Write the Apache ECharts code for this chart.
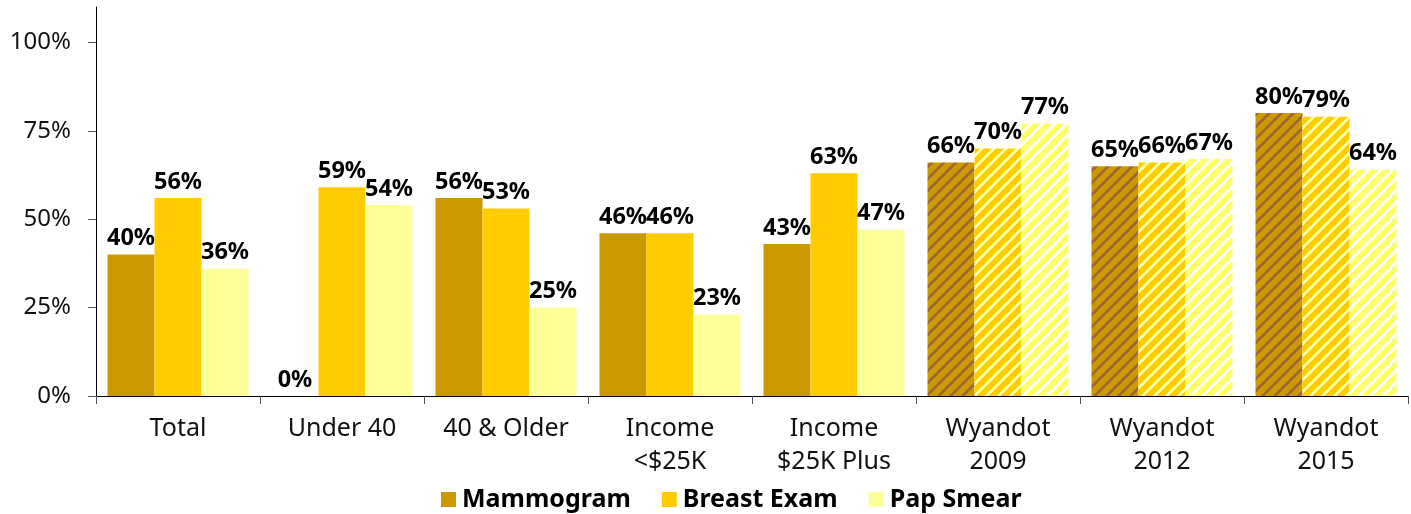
<!DOCTYPE html>
<html>
<head>
<meta charset="utf-8">
<script src="https://cdn.jsdelivr.net/npm/echarts@6/dist/echarts.min.js"></script>
<style>
html,body{margin:0;padding:0;background:#fff;}
#chart{width:1411px;height:514px;}
</style>
</head>
<body>
<div id="chart"></div>
<script>
const categories = ['Total', 'Under 40', '40 & Older', 'Income\n<$25K', 'Income\n$25K Plus', 'Wyandot\n2009', 'Wyandot\n2012', 'Wyandot\n2015'];
const hatchedCategories = ['Wyandot\n2009', 'Wyandot\n2012', 'Wyandot\n2015'];
const mammogram = [40, 0, 56, 46, 43, 66, 65, 80];
const breastExam = [56, 59, 53, 46, 63, 70, 66, 79];
const papSmear = [36, 54, 25, 23, 47, 77, 67, 64];
const yTicks = [0, 25, 50, 75, 100];

function stripeTile(base, stripe) {
  const n = 12, w = 4;
  const c = document.createElement('canvas');
  c.width = n; c.height = n;
  const ctx = c.getContext('2d');
  ctx.fillStyle = base; ctx.fillRect(0, 0, n, n);
  ctx.fillStyle = stripe;
  for (let y = 0; y < n; y++) for (let x = 0; x < n; x++) {
    if (((x + y) % n) < w) ctx.fillRect(x, y, 1, 1);
  }
  return { image: c, repeat: 'repeat' };
}

const FONT = "'Noto Sans', 'Open Sans', sans-serif";

function makeSeries(name, values, color, pattern) {
  return {
    name: name,
    type: 'bar',
    barGap: '0%',
    barCategoryGap: '14%',
    itemStyle: { color: color },
    label: {
      show: true, position: 'top', distance: 4,
      formatter: p => p.value + '%',
      color: '#000', fontWeight: 'bold', fontSize: 23.5, fontFamily: FONT
    },
    data: values.map((v, i) => hatchedCategories.includes(categories[i])
      ? { value: v, itemStyle: { color: pattern } }
      : v)
  };
}

const chart = echarts.init(document.getElementById('chart'), null, { renderer: 'canvas' });
chart.setOption({
  animation: false,
  textStyle: { fontFamily: FONT },
  grid: { left: 96, right: 3, top: 7, bottom: 118, containLabel: false },
  legend: {
    top: 482, left: 436,
    itemWidth: 15, itemHeight: 15, itemGap: 31,
    icon: 'rect',
    textStyle: { fontSize: 25, fontWeight: 'bold', color: '#000', fontFamily: FONT, padding: [0, 0, 0, 1] }
  },
  xAxis: {
    type: 'category',
    data: categories,
    axisLine: { lineStyle: { color: '#000', width: 1 } },
    axisTick: { show: true, length: 8, lineStyle: { color: '#555' } },
    axisLabel: { fontSize: 25, color: '#111', lineHeight: 33, margin: 16, interval: 0, fontFamily: FONT }
  },
  yAxis: {
    type: 'value',
    min: 0, max: 110, interval: 25,
    splitLine: { show: false },
    axisLine: { show: true, lineStyle: { color: '#000', width: 1 } },
    axisTick: { show: true, length: 8, customValues: yTicks, lineStyle: { color: '#555' } },
    axisLabel: {
      fontSize: 24, color: '#111', margin: 25, fontFamily: FONT,
      customValues: yTicks,
      formatter: v => v + '%'
    }
  },
  series: [
    makeSeries('Mammogram', mammogram, '#CC9900', stripeTile('#CC9900', '#A0692E')),
    makeSeries('Breast Exam', breastExam, '#FFCC00', stripeTile('#FFCC00', '#FFFFA0')),
    makeSeries('Pap Smear', papSmear, '#FFFF99', stripeTile('#FFFF66', '#FFFFFF'))
  ]
});
</script>
</body>
</html>
